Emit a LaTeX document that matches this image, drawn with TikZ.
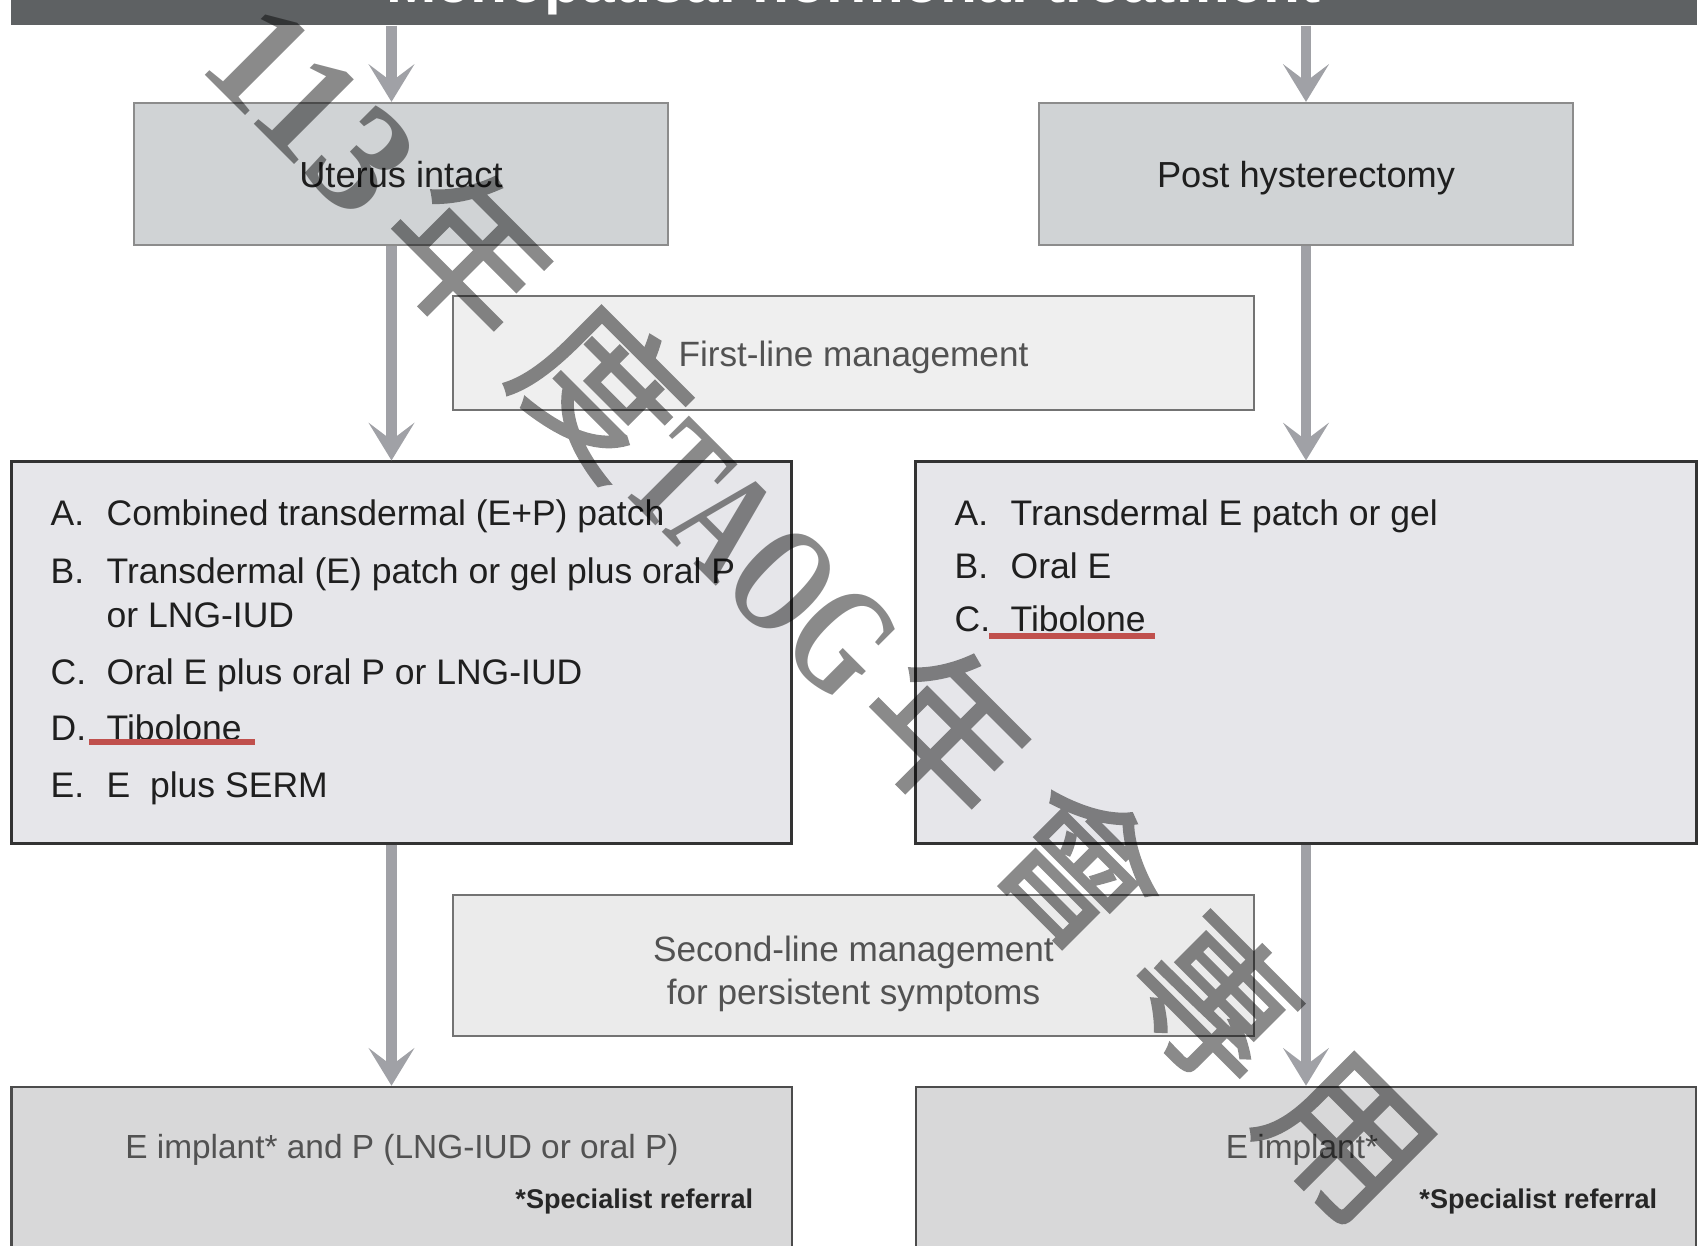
\documentclass[tikz,border=0pt]{standalone}
\usepackage{graphicx}
\usepackage{fontspec}
\setmainfont{Liberation Sans}
\newfontfamily\wmserif{Liberation Serif}
\newfontfamily\wmcjk{Noto Sans CJK TC}[FakeBold=1.4]
\usetikzlibrary{arrows.meta}
\definecolor{bargray}{HTML}{5E6163}
\definecolor{arrowgray}{HTML}{A0A1A6}
\definecolor{topfill}{HTML}{D0D3D5}
\definecolor{listfill}{HTML}{E6E6EA}
\definecolor{notefill}{HTML}{EFEFEF}
\definecolor{endfill}{HTML}{D8D8D9}
\definecolor{markred}{HTML}{C0504D}

\begin{document}
\begin{tikzpicture}[x=0.01cm, y=-0.01cm, inner sep=0pt,
  >={Stealth[length=10.7pt, width=13pt, inset=4.9pt]},
  flow/.style={->, draw=arrowgray, line width=3.1pt},
  headbox/.style={draw=black!45, line width=0.6pt, fill=topfill, minimum width=5.33cm, minimum height=1.42cm,
    text height=7.5pt, text depth=0pt, text=black!88, font=\fontsize{10.3}{12}\selectfont},
  notebox/.style={draw=black!55, line width=0.5pt, fill=notefill, minimum width=8.01cm},
  notetext/.style={text=black!68, font=\fontsize{10}{12.2}\selectfont},
  listbox/.style={draw=black!80, line width=0.8pt, fill=listfill, minimum width=7.8cm, minimum height=3.81cm},
  endbox/.style={draw=black!70, line width=0.7pt, fill=endfill, minimum width=7.8cm, minimum height=1.93cm},
  itemtxt/.style={anchor=base west, text=black!88, font=\fontsize{10.1}{12}\selectfont},
  markline/.style={draw=markred, line width=1.8pt},
  wmark/.style={anchor=base west, rotate=-45, text=black}]
\useasboundingbox (0,0) rectangle (1705,1246);
\clip (0,0) rectangle (1705,1246);
% title bar (cut at the top):
\node (bar) at (853.5,-13.8) [fill=bargray, minimum width=16.85cm, minimum height=0.776cm, text height=12.6pt, text depth=3.6pt,
  text=white, font=\fontsize{17.2}{20}\selectfont\bfseries] {Menopausal hormonal treatment};
% columns of the arrows:
\coordinate (cl) at (391.5,0);
\coordinate (cr) at (1306,0);
% first row:
\node (ut) at (401,174) [headbox] {Uterus intact};
\node (ph) at (1306,174) [headbox] {Post hysterectomy};
\node (fl) at (853.5,353) [notebox, minimum height=1.14cm, text height=7.5pt, text depth=0pt, notetext] {First-line management};
% option lists:
\node (lA) at (401.5,652.5) [listbox] {};
\node (lB) at (1306,652.5) [listbox] {};
\node (a1) at (50,526) [itemtxt] {A.};
\node (a1t) at (106,526) [itemtxt] {Combined transdermal (E+P) patch};
\node (a2) at (50,584) [itemtxt] {B.};
\node (a2t) at (106,584) [itemtxt] {Transdermal (E) patch or gel plus oral P};
\node (a2u) at (106,628) [itemtxt] {or LNG-IUD};
\node (a3) at (50,685) [itemtxt] {C.};
\node (a3t) at (106,685) [itemtxt] {Oral E plus oral P or LNG-IUD};
\node (a4) at (50,741) [itemtxt] {D.};
\node (a4t) at (106,741) [itemtxt] {Tibolone};
\node (a5) at (50,798) [itemtxt] {E.};
\node (a5t) at (106,798) [itemtxt] {E\ \ plus SERM};
\node (b1) at (954,526) [itemtxt] {A.};
\node (b1t) at (1010,526) [itemtxt] {Transdermal E patch or gel};
\node (b2) at (954,579) [itemtxt] {B.};
\node (b2t) at (1010,579) [itemtxt] {Oral E};
\node (b3) at (954,632) [itemtxt] {C.};
\node (b3t) at (1010,632) [itemtxt] {Tibolone};
\draw[markline] (89,742) -- (255,742);
\draw[markline] (989,636) -- (1155,636);
% second line:
\node (sl) at (853.5,965.5) [notebox, minimum height=1.41cm, fill=black!8] {};
\node (slt) at (853.5,974) [notetext, align=center] {Second-line management\\for persistent symptoms};
% last row:
\node (bL) at (401.5,1183.5) [endbox] {};
\node (bR) at (1306,1183.5) [endbox] {};
\node (bLt) at (402,1158) [anchor=base, text=black!68, font=\fontsize{9.5}{12}\selectfont] {E implant* and P (LNG-IUD or oral P)};
\node (bLs) at (754,1208) [anchor=base east, text=black!85, font=\fontsize{7.7}{9}\selectfont\bfseries] {*Specialist referral};
\node (bRt) at (1302,1158) [anchor=base, text=black!68, font=\fontsize{9.5}{12}\selectfont] {E implant*};
\node (bRs) at (1658,1208) [anchor=base east, text=black!85, font=\fontsize{7.7}{9}\selectfont\bfseries] {*Specialist referral};
% arrows:
\draw[flow] (bar.south -| cl) -- (ut.north -| cl);
\draw[flow] (bar.south -| cr) -- (ph.north);
\draw[flow] (ut.south -| cl) -- (lA.north -| cl);
\draw[flow] (ph.south) -- (lB.north -| cr);
\draw[flow] (lA.south -| cl) -- (bL.north -| cl);
\draw[flow] (lB.south -| cr) -- (bR.north -| cr);
% watermark:
\begin{scope}[transparency group, opacity=0.46]
\node (wm) at (196,66) [wmark] {{\wmserif\bfseries\fontsize{44}{44}\selectfont 113}\hspace{6.3pt}{\wmcjk\fontsize{45}{45}\selectfont 年\hspace{9pt}度}\scalebox{0.7}[1]{\wmserif\bfseries\fontsize{44}{44}\selectfont TAOG}\hspace{4.8pt}{\wmcjk\fontsize{45}{45}\selectfont 年\hspace{9pt}會\hspace{9pt}專\hspace{9pt}用}};
\end{scope}
\end{tikzpicture}
\end{document}
